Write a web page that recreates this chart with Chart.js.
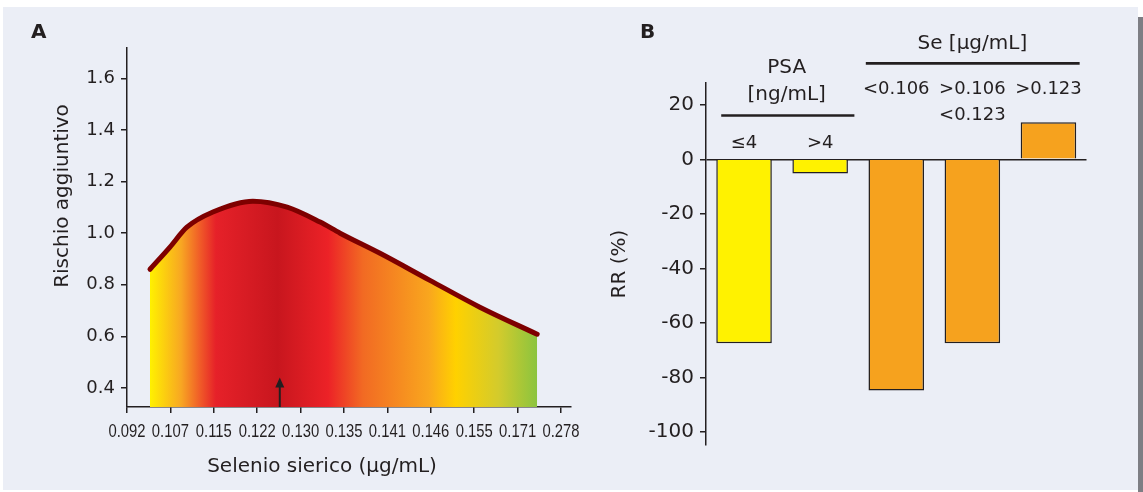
<!DOCTYPE html>
<html>
<head>
<meta charset="utf-8">
<script src="https://cdn.jsdelivr.net/npm/chart.js@4.4.1/dist/chart.umd.min.js"></script>
<style>
  html, body { margin: 0; padding: 0; background: #fff; width: 1143px; height: 492px; overflow: hidden; }
  #panel { position: absolute; left: 3px; top: 7px; width: 1135px; height: 483px; background: #ebeef6; }
  #edge { position: absolute; left: 1138px; top: 17px; width: 5px; height: 475px; background: #7d7e84; }
  .wrap { position: absolute; top: 0; height: 492px; }
  #wrapA { left: 0; width: 600px; }
  #wrapB { left: 600px; width: 538px; }
  .tag { position: absolute; top: 19px; font: bold 20px 'DejaVu Sans', sans-serif; color: #231f20; }
</style>
</head>
<body>
<div id="panel"></div>
<div id="edge"></div>
<div class="wrap" id="wrapA"><canvas id="riskChart"></canvas></div>
<div class="wrap" id="wrapB"><canvas id="rrChart"></canvas></div>
<div class="tag" style="left:31px">A</div>
<div class="tag" style="left:640px">B</div>
<script>
// Panel A: added risk vs serum selenium (x is the tick index along the axis)
const seleniumTicks = ['0.092', '0.107', '0.115', '0.122', '0.130', '0.135', '0.141', '0.146', '0.155', '0.171', '0.278'];
const riskX = [0.53, 0.99, 1.38, 1.98, 2.90, 3.69, 4.45, 4.91, 5.83, 6.98, 8.13, 9.45];
const riskY = [0.860, 0.946, 1.023, 1.082, 1.124, 1.101, 1.043, 1.000, 0.922, 0.817, 0.713, 0.608];
const riskTicks = [0.4, 0.6, 0.8, 1.0, 1.2, 1.4, 1.6];
const arrowX = 3.52;
const arrowTip = 0.44;

// Panel B: relative risk by PSA and Se subgroup
const rrCategories = [['≤4'], ['>4'], ['<0.106'], ['>0.106', '<0.123'], ['>0.123']];
const rrGroups = ['psa', 'psa', 'se', 'se', 'se'];
const rrValues = [-67.5, -5.2, -84.8, -67.5, 13.6];
const rrTicks = [-100, -80, -60, -40, -20, 0, 20];

const ink = '#231f20';
const textFont = 'DejaVu Sans, Verdana, sans-serif';
const groupColors = { psa: '#fff200', se: '#f6a21e' };

// colour ramp of the area, left to right
const rampStops = [
    [0.00, '#fff100'], [0.08, '#f8a722'], [0.13, '#f05a28'], [0.17, '#e62129'],
    [0.33, '#c8161e'], [0.46, '#ec2227'], [0.55, '#f26a23'], [0.72, '#f9a61e'],
    [0.79, '#ffd100'], [0.90, '#d3cb2c'], [1.00, '#8bc43f']
];

function areaGradient(context) {
    const chart = context.chart;
    if (!chart.chartArea) return '#e62129';
    const xs = chart.scales.x;
    const x0 = xs.getPixelForValue(riskX[0]);
    const x1 = xs.getPixelForValue(riskX[riskX.length - 1]);
    const g = chart.ctx.createLinearGradient(x0, 0, x1, 0);
    rampStops.forEach(s => g.addColorStop(s[0], s[1]));
    return g;
}

const riskExtras = {
    id: 'riskExtras',
    afterDatasetsDraw(chart) {
        const { ctx, chartArea } = chart;
        const { x, y } = chart.scales;
        const ax = x.getPixelForValue(arrowX);
        const tip = y.getPixelForValue(arrowTip);
        ctx.save();
        ctx.strokeStyle = ink;
        ctx.fillStyle = ink;
        ctx.lineWidth = 2;
        ctx.beginPath();
        ctx.moveTo(ax, chartArea.bottom);
        ctx.lineTo(ax, tip + 8);
        ctx.stroke();
        ctx.beginPath();
        ctx.moveTo(ax, tip);
        ctx.lineTo(ax - 4.5, tip + 10);
        ctx.lineTo(ax + 4.5, tip + 10);
        ctx.closePath();
        ctx.fill();

        // condensed tick labels under the x axis
        ctx.font = '19px Liberation Sans, Arial, sans-serif';
        ctx.textAlign = 'center';
        ctx.textBaseline = 'middle';
        x.ticks.forEach(t => {
            ctx.save();
            ctx.translate(x.getPixelForValue(t.value), chartArea.bottom + 25);
            ctx.scale(0.78, 1);
            ctx.fillText(seleniumTicks[t.value], 0, 0);
            ctx.restore();
        });

        // axis titles (not centred on the axes in the original)
        ctx.font = '20px ' + textFont;
        ctx.fillText('Selenio sierico (μg/mL)', 322, 467);
        ctx.translate(63, 196);
        ctx.rotate(-Math.PI / 2);
        ctx.fillText('Rischio aggiuntivo', 0, 0);
        ctx.restore();
    }
};

new Chart(document.getElementById('riskChart'), {
    type: 'line',
    data: {
        datasets: [{
            data: riskX.map((v, i) => ({ x: v, y: riskY[i] })),
            borderColor: '#7e0000',
            borderWidth: 5,
            borderCapStyle: 'round',
            borderJoinStyle: 'round',
            backgroundColor: areaGradient,
            fill: 'start',
            pointRadius: 0,
            cubicInterpolationMode: 'monotone'
        }]
    },
    options: {
        responsive: true,
        maintainAspectRatio: false,
        animation: false,
        layout: { padding: { top: 48, right: 29, bottom: 0, left: 0 } },
        plugins: { legend: { display: false }, tooltip: { enabled: false } },
        scales: {
            x: {
                type: 'linear',
                min: 0,
                max: 10.23,
                z: 1,
                afterFit: s => { s.height = 85; },
                afterBuildTicks: s => { s.ticks = seleniumTicks.map((_, i) => ({ value: i })); },
                grid: { drawOnChartArea: false, color: ink, tickLength: 6, lineWidth: 1.5 },
                border: { display: true, color: ink, width: 1.5 },
                ticks: { display: false }
            },
            y: {
                min: 0.326,
                max: 1.718,
                z: 1,
                afterFit: s => { s.width = 127; },
                afterBuildTicks: s => { s.ticks = riskTicks.map(v => ({ value: v })); },
                grid: { drawOnChartArea: false, color: ink, tickLength: 6, lineWidth: 1.5 },
                border: { display: true, color: ink, width: 1.5 },
                ticks: {
                    padding: 6,
                    color: ink,
                    font: { family: textFont, size: 18 },
                    callback: v => v.toFixed(1)
                }
            }
        }
    },
    plugins: [riskExtras]
});

// category labels and group headers of panel B
const rrAnnotations = {
    id: 'rrAnnotations',
    afterDraw(chart) {
        const { ctx } = chart;
        const { x, y } = chart.scales;
        const levels = { psa: 5.9, se: 25.7 };
        ctx.save();
        ctx.fillStyle = ink;
        ctx.strokeStyle = ink;
        ctx.font = '18px ' + textFont;
        ctx.textAlign = 'center';
        ctx.textBaseline = 'middle';
        rrCategories.forEach((lines, i) => {
            const top = y.getPixelForValue(levels[rrGroups[i]]);
            lines.forEach((t, j) => ctx.fillText(t, x.getPixelForValue(i), top + j * 26));
        });
        // PSA header
        ctx.font = '20px ' + textFont;
        const psaMid = x.getPixelForValue(0.56);
        ctx.fillText('PSA', psaMid, y.getPixelForValue(33.4));
        ctx.fillText('[ng/mL]', psaMid, y.getPixelForValue(23.5));
        ctx.lineWidth = 2.6;
        ctx.beginPath();
        ctx.moveTo(x.getPixelForValue(-0.3), y.getPixelForValue(16.1));
        ctx.lineTo(x.getPixelForValue(1.45), y.getPixelForValue(16.1));
        ctx.stroke();
        // Se header
        ctx.fillText('Se [μg/mL]', x.getPixelForValue(3), y.getPixelForValue(42.2));
        ctx.beginPath();
        ctx.moveTo(x.getPixelForValue(1.6), y.getPixelForValue(35.2));
        ctx.lineTo(x.getPixelForValue(4.41), y.getPixelForValue(35.2));
        ctx.stroke();
        ctx.restore();
    }
};

new Chart(document.getElementById('rrChart'), {
    type: 'bar',
    data: {
        labels: rrCategories.map(l => l.join(' ')),
        datasets: [{
            data: rrValues,
            backgroundColor: rrGroups.map(g => groupColors[g]),
            borderColor: ink,
            borderWidth: 1.5,
            barPercentage: 0.73,
            categoryPercentage: 1
        }]
    },
    options: {
        responsive: true,
        maintainAspectRatio: false,
        animation: false,
        layout: { padding: { top: 83, right: 51.5, bottom: 47, left: 0 } },
        plugins: { legend: { display: false }, tooltip: { enabled: false } },
        scales: {
            x: { display: false },
            y: {
                min: -104.8,
                max: 28,
                afterFit: s => { s.width = 106; },
                afterBuildTicks: s => { s.ticks = rrTicks.map(v => ({ value: v })); },
                grid: {
                    drawOnChartArea: true,
                    color: c => (c.tick && c.tick.value === 0 ? ink : 'rgba(0,0,0,0)'),
                    tickColor: ink,
                    tickLength: 6,
                    lineWidth: 1.5
                },
                border: { display: true, color: ink, width: 1.5 },
                title: {
                    display: true,
                    text: 'RR (%)',
                    color: ink,
                    font: { family: textFont, size: 20 },
                    padding: { top: 8, bottom: 0 }
                },
                ticks: {
                    padding: 6,
                    color: ink,
                    font: { family: textFont, size: 20 },
                    callback: v => String(v)
                }
            }
        }
    },
    plugins: [rrAnnotations]
});
</script>
</body>
</html>
